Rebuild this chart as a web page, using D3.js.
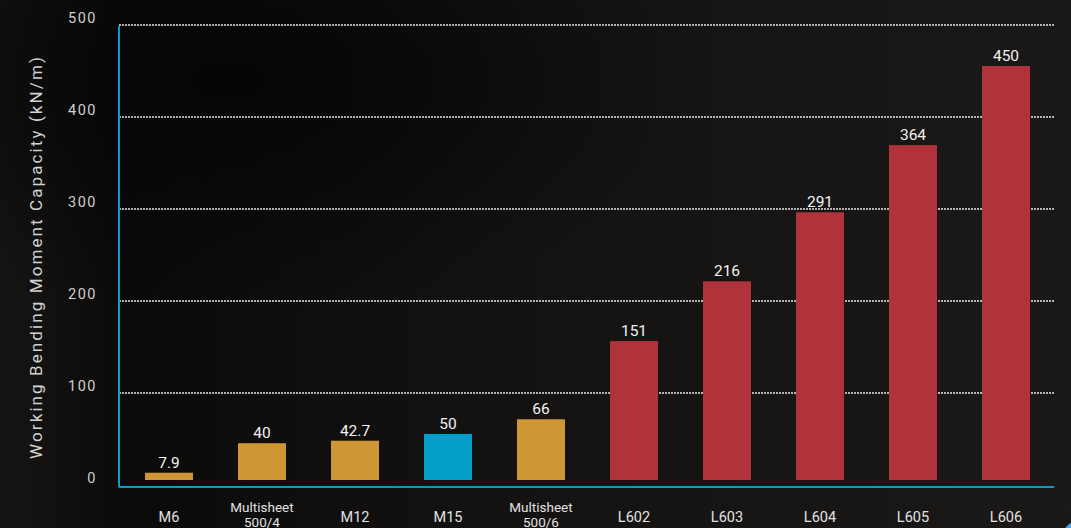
<!DOCTYPE html>
<html>
<head>
<meta charset="utf-8">
<script src="https://cdn.jsdelivr.net/npm/d3@7"></script>
<style>
  html, body { margin: 0; padding: 0; background: #151311; }
  svg { display: block; font-family: Roboto, "Noto Sans", sans-serif; }
</style>
</head>
<body>
<svg id="chart-svg" width="1071" height="528"></svg>
<script>
// chart values
let categories = ["M6", "Multisheet\n500/4", "M12", "M15", "Multisheet\n500/6",
                  "L602", "L603", "L604", "L605", "L606"]
let values = [7.9, 40, 42.7, 50, 66, 151, 216, 291, 364, 450]
let valueLabels = ["7.9", "40", "42.7", "50", "66", "151", "216", "291", "364", "450"]
let groups = ["M", "M", "M", "F", "M", "L", "L", "L", "L", "L"]
let yTicks = [0, 100, 200, 300, 400, 500]

let colours = { M: "#cf9636", F: "#049ec8", L: "#b0323a" }

let svg = d3.select("#chart-svg")

// background, dark photo-ish
let defs = svg.append("defs")
let bg = defs.append("linearGradient").attr("id", "bg").attr("x1", 0).attr("x2", 1)
bg.append("stop").attr("offset", 0).attr("stop-color", "#171513")
bg.append("stop").attr("offset", 0.12).attr("stop-color", "#0b0a0a")
bg.append("stop").attr("offset", 0.45).attr("stop-color", "#141211")
bg.append("stop").attr("offset", 1).attr("stop-color", "#1b1917")
let shade = defs.append("radialGradient").attr("id", "shade")
    .attr("cx", 0.22).attr("cy", 0.15).attr("r", 0.45)
shade.append("stop").attr("offset", 0).attr("stop-color", "#050506").attr("stop-opacity", 0.95)
shade.append("stop").attr("offset", 1).attr("stop-color", "#050506").attr("stop-opacity", 0)

svg.append("rect").attr("width", 1071).attr("height", 528).attr("fill", "url(#bg)")
svg.append("rect").attr("width", 1071).attr("height", 528).attr("fill", "url(#shade)")
svg.append("circle").attr("cx", 1092).attr("cy", 552).attr("r", 36).attr("fill", "#4aa6dc")

let left = 119, right = 1054
let yScale = d3.scaleLinear()
    .domain([0, 500])
    .range([485, 25])
let xScale = d3.scaleBand()
    .domain(categories)
    .range([122.5, 1052.5])
    .paddingInner(0.484)
    .paddingOuter(0.242)

// grid lines
svg.append("g").selectAll("line")
    .data(yTicks.filter(d => d > 0))
    .join("line")
    .attr("x1", left).attr("x2", right)
    .attr("y1", d => yScale(d)).attr("y2", d => yScale(d))
    .attr("stroke", "#e6e6e6")
    .attr("stroke-width", 1.3)
    .attr("stroke-dasharray", "2,1")

// y tick labels
svg.append("g").selectAll("text")
    .data(yTicks)
    .join("text")
    .attr("x", 97)
    .attr("y", d => yScale(d) - 6)
    .attr("text-anchor", "end")
    .attr("dominant-baseline", "middle")
    .attr("fill", "#cfcfcf")
    .attr("font-size", 14.5)
    .style("letter-spacing", "1.5px")
    .text(d => d)

// axis title
svg.append("text")
    .attr("transform", "translate(42,257) rotate(-90)")
    .attr("text-anchor", "middle")
    .attr("fill", "#d2d2d2")
    .attr("font-size", 17)
    .style("letter-spacing", "2.1px")
    .text("Working Bending Moment Capacity (kN/m)")

// bars, they sit a little above the axis line
let lift = 5
svg.append("g").selectAll("rect")
    .data(values)
    .join("rect")
    .attr("x", (d, i) => xScale(categories[i]))
    .attr("width", xScale.bandwidth())
    .attr("y", d => yScale(d) - lift)
    .attr("height", d => yScale(0) - yScale(d))
    .attr("fill", (d, i) => colours[groups[i]])

// value labels
svg.append("g").selectAll("text")
    .data(values)
    .join("text")
    .attr("x", (d, i) => xScale(categories[i]) + xScale.bandwidth() / 2)
    .attr("y", d => yScale(d) - lift - 5)
    .attr("text-anchor", "middle")
    .attr("fill", "#f2f2f2")
    .attr("font-size", 15.5)
    .text((d, i) => valueLabels[i])

// axis lines
svg.append("line")
    .attr("x1", left).attr("x2", left)
    .attr("y1", yScale(500) + 1).attr("y2", yScale(0) + 2)
    .attr("stroke", "#0b9bc6").attr("stroke-width", 2)
svg.append("line")
    .attr("x1", left).attr("x2", right)
    .attr("y1", yScale(0) + 2).attr("y2", yScale(0) + 2)
    .attr("stroke", "#0b9bc6").attr("stroke-width", 2)

// category labels
let xl = svg.append("g").selectAll("text")
    .data(categories)
    .join("text")
    .attr("text-anchor", "middle")
    .attr("fill", "#e2e2e2")
    .attr("font-size", d => d.includes("\n") ? 13.5 : 14.5)
xl.each(function(d) {
    let parts = d.split("\n")
    let t = d3.select(this)
    parts.forEach((p, k) => {
        t.append("tspan")
            .attr("x", xScale(d) + xScale.bandwidth() / 2)
            .attr("y", parts.length > 1 ? 512 + k * 15 : 522)
            .text(p)
    })
})
</script>
</body>
</html>
